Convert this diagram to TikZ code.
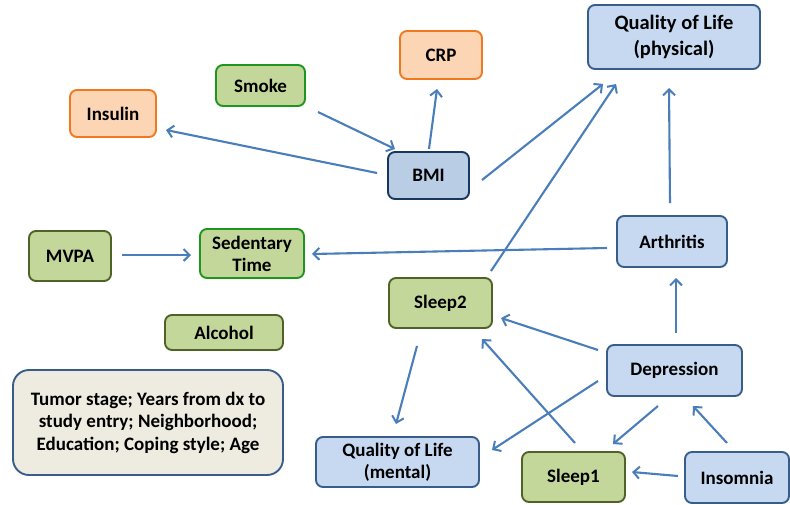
\documentclass[tikz,border=0pt]{standalone}
\usepackage{fontspec}
\setmainfont{Carlito}
\usetikzlibrary{arrows.meta}
\definecolor{arrc}{RGB}{74,126,187}
\definecolor{orfill}{RGB}{252,213,181}
\definecolor{ordraw}{RGB}{240,120,30}
\definecolor{grfill}{RGB}{196,215,155}
\definecolor{grdraw}{RGB}{30,150,30}
\definecolor{oldraw}{RGB}{79,98,40}
\definecolor{blfill}{RGB}{198,217,241}
\definecolor{bldraw}{RGB}{56,93,138}
\definecolor{bmifill}{RGB}{185,205,229}
\definecolor{bmidraw}{RGB}{23,55,94}
\definecolor{tafill}{RGB}{238,236,225}
\tikzset{
  box/.style={rounded corners=7pt, line width=1.9pt, align=center, inner sep=0pt,
    font=\fontsize{19}{22.5}\selectfont\bfseries},
  orbox/.style={box, fill=orfill, draw=ordraw},
  grbox/.style={box, fill=grfill, draw=grdraw},
  olbox/.style={box, fill=grfill, draw=oldraw},
  blbox/.style={box, fill=blfill, draw=bldraw},
  arr/.style={draw=arrc, line width=2.1pt, -{Straight Barb[length=6pt,width=12pt,line width=2pt]}},
}
\begin{document}
\begin{tikzpicture}[x=1pt,y=-1pt]
\useasboundingbox[fill=white] (0,0) rectangle (790,504);
\node[orbox, minimum width=86pt, minimum height=47pt] (insulin) at (113,113.5) {Insulin};
\node[grbox, minimum width=89pt, minimum height=41pt] (smoke) at (260.5,85.5) {Smoke};
\node[orbox, minimum width=82pt, minimum height=48pt] (crp) at (441,55) {CRP};
\node[blbox, minimum width=172pt, minimum height=64pt, font=\fontsize{20.5}{25.5}\selectfont\bfseries] (qolp) at (674,37) {Quality of Life\\(physical)};
\node[box, fill=bmifill, draw=bmidraw, minimum width=81pt, minimum height=47pt] (bmi) at (428.5,175.5) {BMI};
\node[olbox, minimum width=82pt, minimum height=50pt] (mvpa) at (70,256) {MVPA};
\node[grbox, minimum width=104pt, minimum height=49pt, font=\fontsize{19}{22}\selectfont\bfseries] (sed) at (252,253.5) {Sedentary\\Time};
\node[blbox, minimum width=110pt, minimum height=51pt] (arth) at (672,241.5) {Arthritis};
\node[olbox, minimum width=103pt, minimum height=50pt] (sleep2) at (440.5,303) {Sleep2};
\node[olbox, minimum width=118pt, minimum height=35pt] (alcohol) at (224,332.5) {Alcohol};
\node[box, fill=tafill, draw=bldraw, rounded corners=16pt, minimum width=270pt, minimum height=105pt] (tumor) at (148,422.5) {Tumor stage; Years from dx to\\study entry; Neighborhood;\\Education; Coping style; Age};
\node[blbox, minimum width=135pt, minimum height=51pt] (dep) at (674.5,370.5) {Depression};
\node[blbox, minimum width=163pt, minimum height=50pt, font=\fontsize{19}{22}\selectfont\bfseries] (qolm) at (397.5,462) {Quality of Life\\(mental)};
\node[olbox, minimum width=103pt, minimum height=50pt] (sleep1) at (573.5,477) {Sleep1};
\node[blbox, minimum width=104pt, minimum height=51pt] (ins) at (737,477.5) {Insomnia};
% connectors
\draw[arr] ([shift={(-51.5,-2.5)}]bmi.center) -- ([shift={(53,16.5)}]insulin.center);
\draw[arr] ([shift={(57.5,26.5)}]smoke.center) -- ([shift={(-33.5,-26.5)}]bmi.center);
\draw[arr] ([shift={(0.5,-26.5)}]bmi.center) -- ([shift={(-4,34)}]crp.center);
\draw[arr] ([shift={(53.5,4.5)}]bmi.center) -- ([shift={(-71,47)}]qolp.center);
\draw[arr] ([shift={(50.5,-32)}]sleep2.center) -- ([shift={(-58,47)}]qolp.center);
\draw[arr] ([shift={(-2,-38.5)}]arth.center) -- ([shift={(-5,51)}]qolp.center);
\draw[arr] ([shift={(-65,6.5)}]arth.center) -- ([shift={(60,0.5)}]sed.center);
\draw[arr] ([shift={(52,-1)}]mvpa.center) -- ([shift={(-61,1.5)}]sed.center);
\draw[arr] ([shift={(1.5,-37.5)}]dep.center) -- ([shift={(4,36.5)}]arth.center);
\draw[arr] ([shift={(-76.5,-20.5)}]dep.center) -- ([shift={(60.5,15)}]sleep2.center);
\draw[arr] ([shift={(1.5,-34)}]sleep1.center) -- ([shift={(41.5,36)}]sleep2.center);
\draw[arr] ([shift={(-76.5,10.5)}]dep.center) -- ([shift={(94.5,-12)}]qolm.center);
\draw[arr] ([shift={(-23.5,43)}]sleep2.center) -- ([shift={(-1.5,-38)}]qolm.center);
\draw[arr] ([shift={(-16.5,35.5)}]dep.center) -- ([shift={(39.5,-33)}]sleep1.center);
\draw[arr] ([shift={(-10,-34.5)}]ins.center) -- ([shift={(18.5,35.5)}]dep.center);
\draw[arr] ([shift={(-59,-1.5)}]ins.center) -- ([shift={(58.5,-5)}]sleep1.center);
\end{tikzpicture}
\end{document}
